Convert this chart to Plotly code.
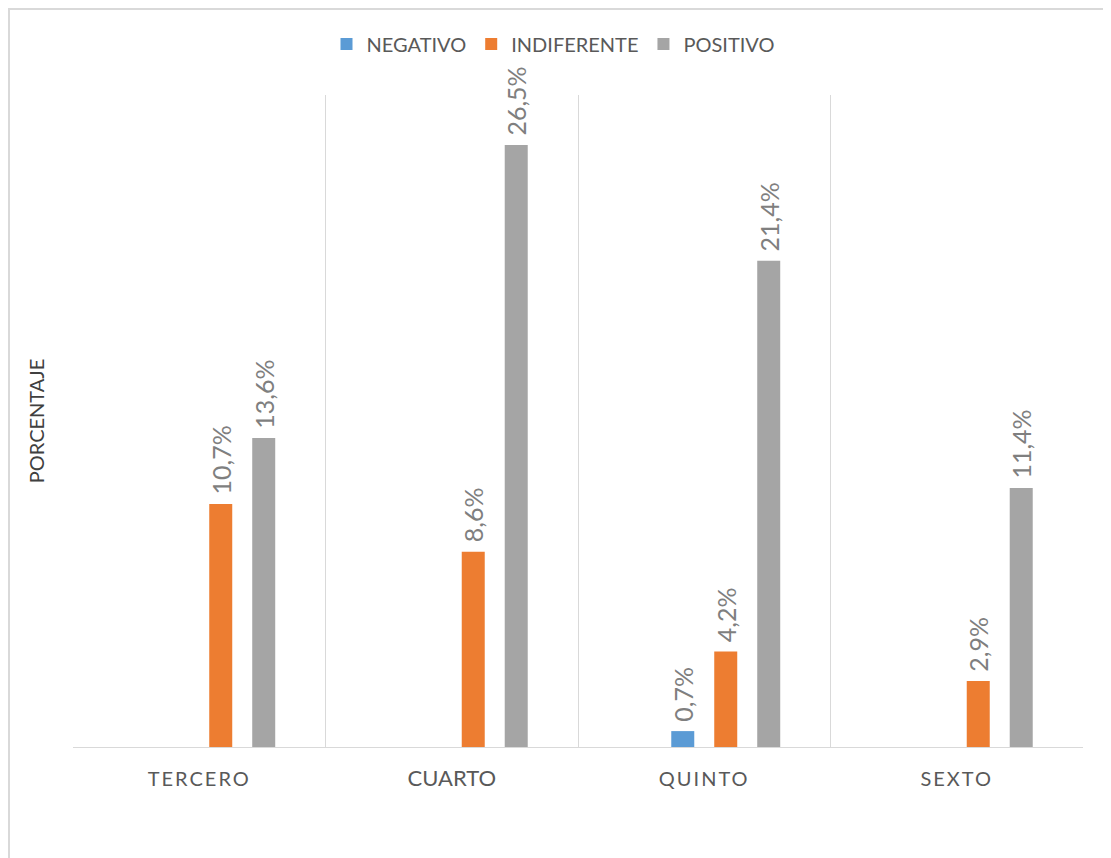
import plotly.graph_objects as go

categories = ["TERCERO", "CUARTO", "QUINTO", "SEXTO"]
negativo = [0, 0, 0.7, 0]
indiferente = [10.7, 8.6, 4.2, 2.9]
positivo = [13.6, 26.5, 21.4, 11.4]

tick_text = [
    '<span style="letter-spacing:2px">TERCERO</span>',
    '<span style="font-size:22px;letter-spacing:0px">CUARTO</span>',
    '<span style="letter-spacing:2px">QUINTO</span>',
    '<span style="letter-spacing:2px">SEXTO</span>',
]

def labels(vals):
    return [(" %.1f%%" % v).replace(".", ",") if v else "" for v in vals]

FONT = "Lato"
OFF = 8  # page body offset
fig = go.Figure()
# empty first series (hidden slot, as in the source workbook)
fig.add_trace(go.Bar(x=categories, y=[None] * 4, marker_color="rgba(0,0,0,0)",
                     showlegend=False, hoverinfo="skip"))
for name, vals, col in [("NEGATIVO", negativo, "#5B9BD5"),
                        ("INDIFERENTE", indiferente, "#ED7D31"),
                        ("POSITIVO", positivo, "#A5A5A5")]:
    fig.add_trace(go.Bar(
        x=categories, y=vals, name=name, marker_color=col, marker_line_width=0,
        text=labels(vals), textposition="outside", textangle=-90,
        textfont=dict(family=FONT, size=25, color="#7F7F7F"),
        cliponaxis=False, constraintext="none",
    ))

W, H = 1111 - OFF, 858 - OFF
L, R, T, B = 73 - OFF, 28, 95 - OFF, 111
pw, ph = W - L - R, H - T - B

def px_x(p):
    return (p - OFF - L) / pw

def px_y(p):
    return (H - B - (p - OFF)) / ph

fig.update_layout(
    width=W, height=H,
    margin=dict(l=L, r=R, t=T, b=B, autoexpand=False),
    paper_bgcolor="white", plot_bgcolor="white",
    barmode="group", bargap=0.319, bargroupgap=0.465,
    font=dict(family=FONT, color="#595959"),
    legend=dict(orientation="h", x=px_x(553), xanchor="center", y=px_y(44), yanchor="middle",
                font=dict(family=FONT, size=20, color="#595959"), traceorder="normal"),
    xaxis=dict(type="category", tickson="boundaries", showgrid=True, gridcolor="#D9D9D9",
               gridwidth=1, showline=True, linecolor="#D9D9D9", linewidth=1,
               ticks="", tickvals=categories, ticktext=tick_text, ticklabelstandoff=14,
               tickfont=dict(family=FONT, size=20, color="#595959")),
    yaxis=dict(range=[0, 28.7], showgrid=False, zeroline=False, showticklabels=False,
               ticks="", showline=False,
               title=dict(text="PORCENTAJE", standoff=22,
                          font=dict(family=FONT, size=20, color="#404040"))),
    shapes=[dict(type="rect", xref="paper", yref="paper",
                 x0=px_x(OFF + 1), x1=px_x(1109.5), y0=px_y(880), y1=px_y(OFF + 1),
                 line=dict(color="#D9D9D9", width=2), fillcolor="rgba(0,0,0,0)", layer="below")],
)

fig.write_html("out.html")
